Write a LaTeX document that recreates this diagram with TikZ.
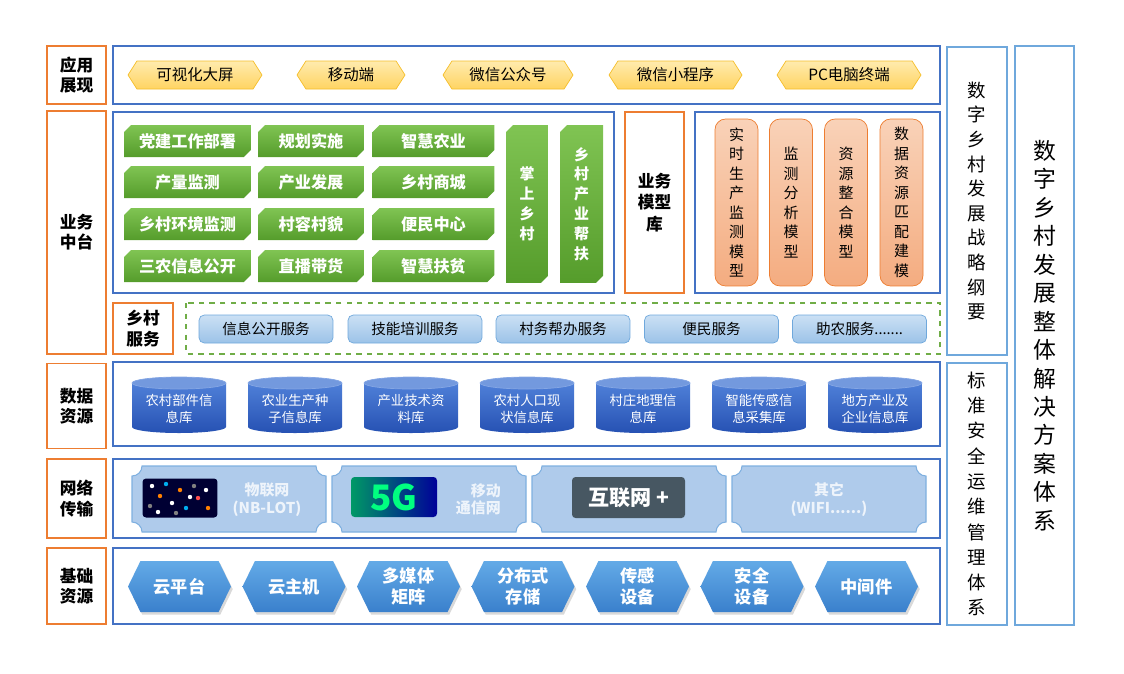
\documentclass[tikz,border=0pt]{standalone}
\usepackage{fontspec}
\setmainfont{Noto Sans CJK SC}
\usetikzlibrary{positioning,shapes.misc,shapes.symbols,shadows}

\definecolor{lblorange}{HTML}{ED7D31}
\definecolor{frameblue}{HTML}{4472C4}
\definecolor{sideblue}{HTML}{6FA8DC}
\definecolor{goldtop}{HTML}{FFEBAE}
\definecolor{goldbot}{HTML}{FFD462}
\definecolor{goldline}{HTML}{F5BE2A}
\definecolor{greentop}{HTML}{80C453}
\definecolor{greenbot}{HTML}{559C2B}
\definecolor{peachtop}{HTML}{F9D2B8}
\definecolor{peachbot}{HTML}{F4AC80}
\definecolor{svctop}{HTML}{CBE0F4}
\definecolor{svcbot}{HTML}{9CC3E8}
\definecolor{svcline}{HTML}{6FA8DC}
\definecolor{dashgreen}{HTML}{70AD47}
\definecolor{cyltop}{HTML}{4F80D8}
\definecolor{cylbot}{HTML}{2651B3}
\definecolor{cylend}{HTML}{7399DE}
\definecolor{netfill}{HTML}{AFCBEB}
\definecolor{netline}{HTML}{7FB0E0}
\definecolor{nettext}{HTML}{EEF4FB}
\definecolor{hextop}{HTML}{63AAE7}
\definecolor{hexbot}{HTML}{3A80CC}

\tikzset{
  lbl/.style={draw=lblorange, line width=0.8pt, align=center, inner sep=0pt,
    minimum width=1.18cm, font=\fontsize{9.5}{11.5}\selectfont\bfseries},
  frame/.style={draw=frameblue, line width=0.8pt},
  side/.style={draw=sideblue, line width=0.8pt, align=center, inner sep=0pt},
  apphex/.style={signal, signal to=east and west, signal pointer angle=115,
    draw=goldline, top color=goldtop, bottom color=goldbot, inner sep=0pt,
    minimum height=0.56cm, font=\fontsize{8.8}{10}\selectfont},
  greenbtn/.style={chamfered rectangle, chamfered rectangle corners={north west,south east},
    chamfered rectangle xsep=2pt, chamfered rectangle ysep=2pt,
    top color=greentop, bottom color=greenbot, text=white, inner sep=0pt,
    minimum height=0.64cm, font=\fontsize{9.2}{11}\selectfont\bfseries},
  model/.style={draw=lblorange, rounded corners=6pt, top color=peachtop, bottom color=peachbot,
    align=center, inner sep=0pt, minimum width=0.86cm, minimum height=3.34cm,
    font=\fontsize{8.5}{11.1}\selectfont},
  svc/.style={draw=svcline, rounded corners=3pt, top color=svctop, bottom color=svcbot,
    minimum width=2.68cm, minimum height=0.56cm, inner sep=0pt, font=\fontsize{8.3}{10}\selectfont},
  dbtext/.style={text=white, align=center, font=\fontsize{7.6}{9.5}\selectfont},
  nettxt/.style={text=nettext, align=center, font=\fontsize{8.5}{10}\selectfont\bfseries},
  basehex/.style={signal, signal to=east and west, signal pointer angle=128,
    top color=hextop, bottom color=hexbot, minimum width=2.06cm, minimum height=1.02cm,
    inner sep=0pt, text=white, align=center, font=\fontsize{9.8}{11.7}\selectfont\bfseries,
    drop shadow={opacity=0.3, shadow xshift=1pt, shadow yshift=-1.5pt}}
}

% ticket shaped panel: x0 y0 x1 y1
\newcommand{\ticket}[4]{%
  \filldraw[draw=netline, fill=netfill, line width=0.6pt]
    (#1+10,#2) -- (#3-10,#2) arc[start angle=180,end angle=90,radius=10]
    -- (#3,#4-10) arc[start angle=270,end angle=180,radius=10]
    -- (#1+10,#4) arc[start angle=0,end angle=-90,radius=10]
    -- (#1,#2+10) arc[start angle=90,end angle=0,radius=10] -- cycle;}

\begin{document}
\begin{tikzpicture}[x=0.02cm, y=-0.02cm]
    \useasboundingbox (0,0) rectangle (1124,673);

    % Layer labels
    \node[lbl, minimum height=1.16cm] (lapp) at (76.5,75) {应用\\展现};
    \node[lbl, minimum height=4.86cm] (lbiz) at (76.5,232.5) {业务\\中台};
    \node[lbl, minimum height=1.70cm] (ldata) at (76.5,406) {数据\\资源};
    \node[lbl, minimum height=1.58cm] (lnet) at (76.5,498.5) {网络\\传输};
    \node[lbl, minimum height=1.52cm] (lbase) at (76.5,586) {基础\\资源};

    % Frames
    \draw[frame] (113,46) rectangle (940,104);
    \draw[frame] (113,112) rectangle (614,293);
    \draw[frame] (695,112) rectangle (940,293);
    \draw[dashgreen, dashed, line width=0.6pt] (186,303) rectangle (940,354);
    \draw[frame] (113,362) rectangle (940,446);
    \draw[frame] (113,459) rectangle (940,538);
    \draw[frame] (113,548) rectangle (940,624);

    % Side columns
    \node[side, minimum width=1.2cm, minimum height=6.16cm, font=\fontsize{10.5}{14}\selectfont] (outline) at (977,201)
        {数\\字\\乡\\村\\发\\展\\战\\略\\纲\\要};
    \node[side, minimum width=1.2cm, minimum height=5.24cm, font=\fontsize{10.5}{14.4}\selectfont] (ops) at (977,494)
        {标\\准\\安\\全\\运\\维\\管\\理\\体\\系};
    \node[side, minimum width=1.18cm, minimum height=11.58cm, font=\fontsize{13}{16.2}\selectfont] (whole) at (1044.5,335.5)
        {数\\字\\乡\\村\\发\\展\\整\\体\\解\\决\\方\\案\\体\\系};

    % Application layer
    \foreach \cx/\w/\nm/\txt in {195/2.68/app1/可视化大屏, 351/2.16/app2/移动端, 508/2.6/app3/微信公众号,
        675.5/2.66/app4/微信小程序, 849/2.88/app5/PC电脑终端}
        \node[apphex, minimum width=\w cm] (\nm) at (\cx,75) {\txt};

    % Business middle platform
    \foreach \y/\txt [count=\i] in {141/党建工作部署, 182/产量监测, 224/乡村环境监测, 266/三农信息公开}
        \node[greenbtn, minimum width=2.54cm] (biza\i) at (187.5,\y) {\txt};
    \foreach \y/\txt [count=\i] in {141/规划实施, 182/产业发展, 224/村容村貌, 266/直播带货}
        \node[greenbtn, minimum width=2.12cm] (bizb\i) at (311,\y) {\txt};
    \foreach \y/\txt [count=\i] in {141/智慧农业, 182/乡村商城, 224/便民中心, 266/智慧扶贫}
        \node[greenbtn, minimum width=2.44cm] (bizc\i) at (433.5,\y) {\txt};
    \node[greenbtn, minimum width=0.84cm, minimum height=3.16cm, align=center,
        font=\fontsize{8.5}{11.3}\selectfont\bfseries] (palm) at (527,204) {掌\\上\\乡\\村};
    \node[greenbtn, minimum width=0.86cm, minimum height=3.16cm, align=center,
        font=\fontsize{8.5}{11.3}\selectfont\bfseries] (help) at (581.5,204) {乡\\村\\产\\业\\帮\\扶};

    % Model library
    \node[lbl, minimum height=3.62cm, font=\fontsize{9.5}{12.2}\selectfont\bfseries] (modlib) at (654.5,202.5) {业务\\模型\\库};
    \node[model] (mod1) at (736.5,202.5) {实\\时\\生\\产\\监\\测\\模\\型};
    \node[model] (mod2) at (791,202.5) {监\\测\\分\\析\\模\\型};
    \node[model] (mod3) at (846,202.5) {资\\源\\整\\合\\模\\型};
    \node[model] (mod4) at (901.5,202.5) {数\\据\\资\\源\\匹\\配\\建\\模};

    % Village services
    \node[lbl, minimum width=1.2cm, minimum height=1.02cm] (lsvc) at (143,328.5) {乡村\\服务};
    \foreach \cx/\txt [count=\i] in {266/{信息公开服务}, 415/{技能培训服务}, 563/{村务帮办服务}, 711.5/{便民服务}, 859.5/{助农服务.......}}
        \node[svc] (svc\i) at (\cx,329) {\txt};

    % Data resources
    \foreach \cx/\txt [count=\i] in {179/{农村部件信\\息库}, 295/{农业生产种\\子信息库}, 411/{产业技术资\\料库},
        527/{农村人口现\\状信息库}, 643/{村庄地理信\\息库}, 759/{智能传感信\\息采集库}, 875/{地方产业及\\企业信息库}} {
        \shade[top color=cyltop, bottom color=cylbot] (\cx-47,383) -- (\cx-47,427)
            arc[start angle=180,end angle=0,x radius=47,y radius=6] -- (\cx+47,383) -- cycle;
        \filldraw[fill=cylend, draw=cyltop!70!white, line width=0.4pt] (\cx,383) ellipse[x radius=47, y radius=6];
        \node[dbtext] (db\i) at (\cx,409) {\txt};
    }

    % Network transport
    \ticket{132}{466}{326}{532}
    \ticket{332}{466}{526}{532}
    \ticket{532}{466}{726}{532}
    \ticket{732}{466}{926}{532}
    \node[fill=black!80!blue, rounded corners=2pt, minimum width=1.5cm, minimum height=0.78cm] (iotpic) at (180,498) {};
    \foreach \px/\py/\c in {152/486/white, 160/496/orange, 150/506/gray, 166/484/cyan, 172/503/white,
        180/490/orange, 186/508/cyan, 194/486/gray, 198/498/red!70, 206/490/white, 208/508/orange,
        176/513/gray, 158/512/white, 190/497/white}
        \fill[\c] (\px,\py) circle (2.2);
    \node[nettxt] (iottxt) at (267,499.5) {物联网\\(NB-LOT)};
    \node[left color=teal!80!green, right color=blue!60!black, rounded corners=2pt, minimum width=1.72cm,
        minimum height=0.8cm, text=green!50!cyan, font=\fontsize{20}{20}\selectfont\bfseries] (fivegpic) at (394,497) {5G};
    \node[nettxt, align=right, anchor=east] (mobtxt) at (507,499.5) {移动\\通信网};
    \node[fill=cyan!30!black, rounded corners=2pt, minimum width=2.26cm, minimum height=0.82cm,
        text=white, font=\fontsize{12}{12}\selectfont\bfseries] (netpic) at (628.5,497.5) {互联网 +};
    \node[nettxt] (othtxt) at (829,499.5) {其它\\(WIFI......)};

    % Base resources
    \foreach \cx/\txt [count=\i] in {179.5/云平台, 294/云主机, 408.5/{多媒体\\矩阵}, 523/{分布式\\存储},
        637.5/{传感\\设备}, 752/{安全\\设备}, 866.5/中间件}
        \node[basehex] (base\i) at (\cx,586.5) {\txt};
\end{tikzpicture}
\end{document}
